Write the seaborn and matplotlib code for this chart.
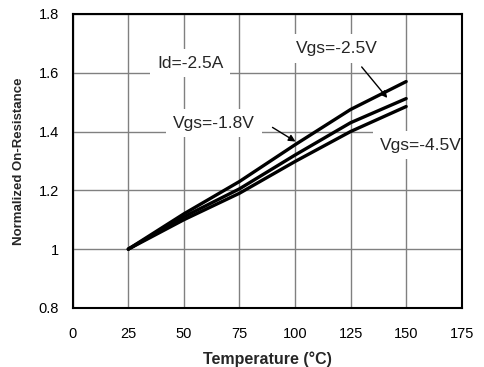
import matplotlib
matplotlib.use("Agg")
import matplotlib.pyplot as plt
import seaborn as sns
import pandas as pd
from matplotlib.ticker import FuncFormatter
from matplotlib import font_manager

temps = [25, 50, 75, 100, 125, 150]
vgs_18 = [1.0, 1.12, 1.23, 1.355, 1.475, 1.57]
vgs_25 = [1.0, 1.11, 1.205, 1.32, 1.43, 1.512]
vgs_45 = [1.0, 1.10, 1.19, 1.298, 1.40, 1.485]
series_names = ["Vgs=-1.8V", "Vgs=-2.5V", "Vgs=-4.5V"]
x_ticks = [0, 25, 50, 75, 100, 125, 150, 175]
y_ticks = [0.8, 1.0, 1.2, 1.4, 1.6, 1.8]

df = pd.concat([
    pd.DataFrame({"T": temps, "R": vals, "s": name})
    for name, vals in zip(series_names, [vgs_18, vgs_25, vgs_45])
])

sns.set_theme(style="white")
plt.rcParams['font.family'] = ['Liberation Sans', 'DejaVu Sans']

installed = {f.name for f in font_manager.fontManager.ttflist}
has_narrow = "Liberation Sans Narrow" in installed

fig = plt.figure(figsize=(4.85, 3.67), dpi=100)
ax = fig.add_axes([0.15, 0.161, 0.802, 0.801])

sns.lineplot(data=df, x="T", y="R", units="s", estimator=None,
             color="black", linewidth=2.4, ax=ax, legend=False, zorder=3)

ax.set_xlim(0, 175)
ax.set_ylim(0.8, 1.8)
ax.set_xticks(x_ticks)
ax.set_yticks(y_ticks)
ax.yaxis.set_major_formatter(FuncFormatter(lambda v, p: f"{v:g}"))
ax.grid(True, color="#808080", linewidth=1.0)
ax.set_axisbelow(True)
for sp in ax.spines.values():
    sp.set_color("black")
    sp.set_linewidth(1.5)
    sp.set_zorder(5)
ax.tick_params(axis="both", length=0, labelsize=10.5, colors="black")
ax.tick_params(axis="x", pad=14)
ax.tick_params(axis="y", pad=10)
ax.set_xlabel("Temperature (°C)", fontsize=11.5, fontweight="bold", labelpad=7)
if has_narrow:
    ax.set_ylabel("Normalized On-Resistance", fontsize=11.5, fontweight="bold",
                  labelpad=9, family=["Liberation Sans Narrow", "DejaVu Sans"])
else:
    ax.set_ylabel("Normalized On-Resistance", fontsize=9.5, fontweight="bold", labelpad=10)

box = dict(facecolor="white", edgecolor="none", pad=5)
fs = 12.5
ax.text(37.9, 1.633, "Id=-2.5A", fontsize=fs, va="center", ha="left", bbox=box, zorder=2)
ax.text(118.9, 1.681, "Vgs=-2.5V", fontsize=fs, va="center", ha="center", bbox=box, zorder=2)
ax.text(63.6, 1.429, "Vgs=-1.8V", fontsize=fs, va="center", ha="center", bbox=box, zorder=2)
ax.text(156.5, 1.354, "Vgs=-4.5V", fontsize=fs, va="center", ha="center", bbox=box, zorder=2)

arrow = dict(arrowstyle="-|>", color="black", lw=1.0, mutation_scale=10)
ax.annotate("", xy=(142.3, 1.507), xytext=(129.2, 1.627), arrowprops=arrow, zorder=4)
ax.annotate("", xy=(101.3, 1.361), xytext=(88.8, 1.419), arrowprops=arrow, zorder=4)

fig.savefig("out.png", dpi=100)
